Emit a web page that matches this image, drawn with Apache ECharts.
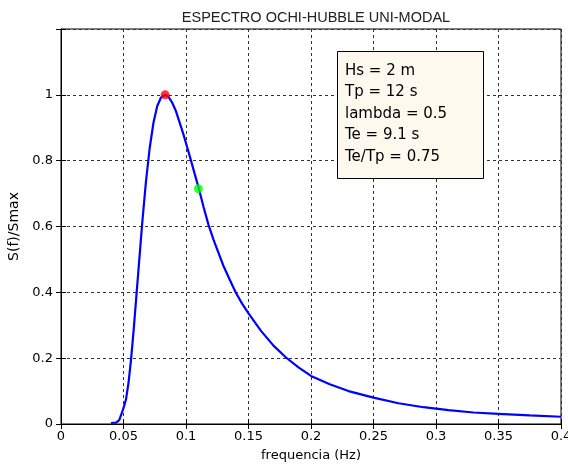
<!DOCTYPE html>
<html>
<head>
<meta charset="utf-8">
<script src="https://cdn.jsdelivr.net/npm/echarts@6/dist/echarts.min.js"></script>
<style>
  html, body { margin: 0; padding: 0; background: #fff; }
  #chart { width: 568px; height: 467px; }
</style>
</head>
<body>
<div id="chart"></div>
<script>
// frequency (Hz) and normalised spectrum
const freq = [
  0.040, 0.044, 0.0466, 0.0485, 0.050, 0.052, 0.054, 0.056, 0.058, 0.060,
  0.062, 0.065, 0.068, 0.071, 0.074, 0.077, 0.080, 0.0833, 0.086, 0.089,
  0.092, 0.095, 0.098, 0.101, 0.104, 0.107, 0.110, 0.114, 0.118, 0.122,
  0.126, 0.130, 0.135, 0.140, 0.145, 0.150, 0.160, 0.170, 0.180, 0.190,
  0.200, 0.215, 0.230, 0.250, 0.270, 0.290, 0.310, 0.330, 0.350, 0.375, 0.400,
];
const sNorm = [
  0.003, 0.004, 0.012, 0.032, 0.048, 0.075, 0.125, 0.195, 0.28, 0.375,
  0.47, 0.612, 0.738, 0.84, 0.916, 0.966, 0.992, 1.0, 0.994, 0.976,
  0.95, 0.915, 0.879, 0.84, 0.80, 0.759, 0.719, 0.66, 0.605, 0.56,
  0.52, 0.48, 0.438, 0.398, 0.365, 0.336, 0.283, 0.238, 0.202, 0.172,
  0.146, 0.121, 0.10, 0.08, 0.063, 0.051, 0.042, 0.035, 0.031, 0.026, 0.022,
];

const peakPoint = [0.0833, 1.0];   // fp = 1/Tp
const tePoint = [0.1099, 0.715];   // 1/Te

const infoLines = ["Hs = 2 m", "Tp = 12 s", "lambda = 0.5", "Te = 9.1 s", "Te/Tp = 0.75"];

const xMin = 0, xMax = 0.4, xStep = 0.05;
const yMin = 0, yMax = 1.2, yStep = 0.2;
const yLabelMax = 1;

const chart = echarts.init(document.getElementById("chart"));

const tickFont = { fontFamily: "DejaVu Sans", fontSize: 13, color: "#000" };
const gridDash = { color: "#333", width: 1, type: [3, 3] };

chart.setOption({
  animation: false,
  title: {
    text: "ESPECTRO OCHI-HUBBLE UNI-MODAL",
    left: 311,
    top: 5,
    textAlign: "center",
    textStyle: { fontFamily: "Liberation Sans", fontSize: 14.5, fontWeight: "normal", color: "#222" },
  },
  grid: {
    left: 61, right: 7, top: 29, bottom: 43,
    containLabel: false,
    outerBoundsMode: "none",
    show: true, borderColor: "#000", borderWidth: 1, backgroundColor: "#fff",
  },
  xAxis: [
    {
      type: "value", min: xMin, max: xMax, interval: xStep,
      name: "frequencia (Hz)", nameLocation: "middle", nameGap: 25,
      nameTextStyle: { fontFamily: "DejaVu Sans", fontSize: 13, color: "#000" },
      axisLine: { show: true, lineStyle: { color: "#000" } },
      axisTick: { show: true, inside: true, length: 5, lineStyle: { color: "#000" } },
      axisLabel: { ...tickFont, margin: 6, formatter: (v) => String(+v.toFixed(2)) },
      splitLine: { show: true, lineStyle: gridDash },
    },
    {
      type: "value", position: "top", min: xMin, max: xMax, interval: xStep,
      axisLine: { show: true, lineStyle: { color: "#000" } },
      axisTick: { show: true, inside: true, length: 5, lineStyle: { color: "#000" } },
      axisLabel: { show: false },
      splitLine: { show: false },
    },
  ],
  yAxis: [
    {
      type: "value", min: yMin, max: yMax, interval: yStep,
      name: "S(f)/Smax", nameLocation: "middle", nameGap: 36,
      nameTextStyle: { fontFamily: "DejaVu Sans", fontSize: 14, color: "#000" },
      axisLine: { show: true, lineStyle: { color: "#000" } },
      axisTick: { show: true, inside: true, length: 5, lineStyle: { color: "#000" } },
      axisLabel: {
        ...tickFont, margin: 8,
        formatter: (v) => (v > yLabelMax + 1e-9 ? "" : String(+v.toFixed(1))),
      },
      splitLine: { show: true, lineStyle: gridDash },
    },
    {
      type: "value", position: "right", min: yMin, max: yMax, interval: yStep,
      axisLine: { show: true, lineStyle: { color: "#000" } },
      axisTick: { show: true, inside: true, length: 5, lineStyle: { color: "#000" } },
      axisLabel: { show: false },
      splitLine: { show: false },
    },
  ],
  series: [
    {
      type: "line",
      data: freq.map((f, i) => [f, sNorm[i]]),
      showSymbol: false,
      smooth: false,
      lineStyle: { color: "#0000ff", width: 2.2 },
      z: 3,
    },
    {
      type: "scatter",
      data: [peakPoint],
      symbolSize: 9,
      itemStyle: { color: "#ff0000" },
      z: 4,
    },
    {
      type: "scatter",
      data: [tePoint],
      symbolSize: 9,
      itemStyle: { color: "#00ff00" },
      z: 4,
    },
  ],
  graphic: [
    {
      type: "rect",
      shape: { x: 337.5, y: 51.5, width: 146, height: 127 },
      style: { fill: "#fdf9ef", stroke: "#000", lineWidth: 1 },
      z: 10,
    },
    {
      type: "text",
      x: 345,
      y: 60,
      style: {
        text: infoLines.join("\n"),
        fontFamily: "DejaVu Sans",
        fontSize: 15,
        lineHeight: 21.5,
        fill: "#000",
      },
      z: 11,
    },
  ],
});
</script>
</body>
</html>
